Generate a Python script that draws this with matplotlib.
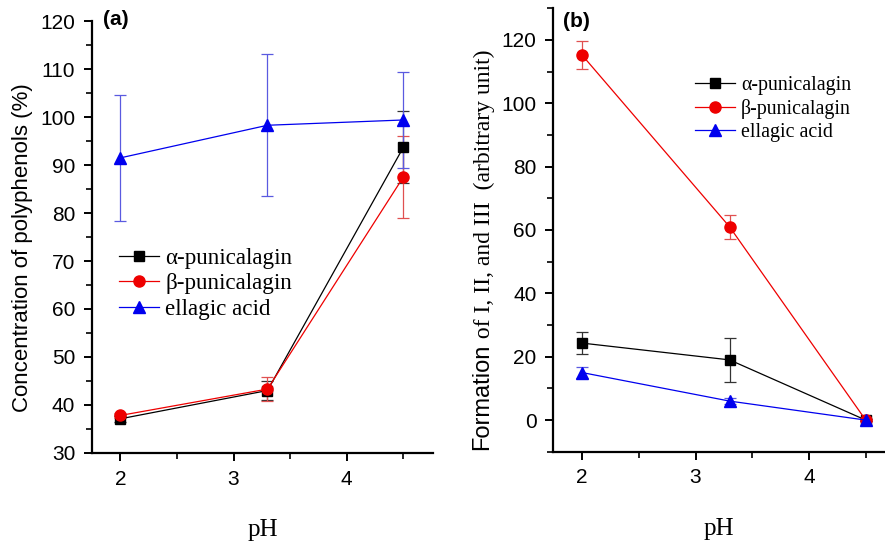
import matplotlib
matplotlib.use("Agg")
import matplotlib.pyplot as plt
from matplotlib.ticker import MultipleLocator

pH = [2.0, 3.3, 4.5]
labels = ["α-punicalagin", "β-punicalagin", "ellagic acid"]

# Panel (a): concentration of polyphenols (%)
a_alpha = [37.1, 43.0, 93.7]
a_alpha_err = [0.6, 2.0, 7.5]
a_beta = [37.8, 43.3, 87.5]
a_beta_err = [0.6, 2.5, 8.5]
a_ella = [91.5, 98.3, 99.4]
a_ella_err = [13.1, 14.8, 10.1]

# Panel (b): formation (arbitrary unit)
b_alpha = [24.3, 19.0, 0.0]
b_alpha_err = [3.4, 7.0, 0.3]
b_beta = [115.2, 61.0, 0.0]
b_beta_err = [4.4, 3.7, 0.3]
b_ella = [15.0, 6.0, 0.0]
b_ella_err = [1.6, 1.0, 0.3]

colors = ["black", "#ee0000", "#0000ee"]
err_colors = ["#333333", "#e05050", "#5a5ae0"]
markers = ["s", "o", "^"]
msizes = [6.5, 8, 8.5]

SANS = ["Liberation Sans", "DejaVu Sans"]
SERIF = ["Liberation Serif", "DejaVu Serif"]

fig = plt.figure(figsize=(8.85, 5.43), dpi=100)
axa = fig.add_axes([0.104, 0.166, 0.385, 0.795])
axb = fig.add_axes([0.625, 0.168, 0.375, 0.817])


def draw(ax, series, errs):
    handles = []
    for i, (y, e) in enumerate(zip(series, errs)):
        ax.errorbar(pH, y, yerr=e, fmt="none", ecolor=err_colors[i],
                    elinewidth=0.9, capsize=4, capthick=0.9, zorder=2)
        h, = ax.plot(pH, y, color=colors[i], lw=0.9, marker=markers[i],
                     ms=msizes[i], mfc=colors[i], mec=colors[i], zorder=3 + i,
                     label=labels[i])
        handles.append(h)
    for s in ["top", "right"]:
        ax.spines[s].set_visible(False)
    for s in ["left", "bottom"]:
        ax.spines[s].set_linewidth(1.6)
    ax.xaxis.set_major_locator(MultipleLocator(1))
    ax.xaxis.set_minor_locator(MultipleLocator(0.5))
    ax.tick_params(which="major", direction="out", length=6, width=1.4,
                   labelsize=15, pad=6)
    ax.tick_params(which="minor", direction="out", length=4, width=1.2)
    ax.set_xlabel("pH", family=SERIF, fontsize=18, labelpad=22)
    return handles


ha = draw(axa, [a_alpha, a_beta, a_ella], [a_alpha_err, a_beta_err, a_ella_err])
axa.set_xlim(1.75, 4.76)
axa.set_ylim(30, 120)
axa.yaxis.set_major_locator(MultipleLocator(10))
axa.yaxis.set_minor_locator(MultipleLocator(5))
for t in axa.get_xticklabels() + axa.get_yticklabels():
    t.set_family(SANS)
axa.set_ylabel("Concentration of polyphenols (%)", family=SANS, fontsize=16)
axa.yaxis.set_label_coords(-0.173, 0.475)
axa.text(0.032, 1.005, "(a)", transform=axa.transAxes, family=SANS,
         fontweight="bold", fontsize=15, va="center", ha="left")
axa.legend(handles=ha, loc="upper left", bbox_to_anchor=(0.052, 0.497),
           frameon=False, prop={"family": SERIF, "size": 16.6},
           handlelength=1.75, handletextpad=0.25, labelspacing=0.2,
           borderaxespad=0)

hb = draw(axb, [b_alpha, b_beta, b_ella], [b_alpha_err, b_beta_err, b_ella_err])
axb.set_xlim(1.745, 4.67)
axb.set_ylim(-10, 130)
axb.yaxis.set_major_locator(MultipleLocator(20))
axb.yaxis.set_minor_locator(MultipleLocator(10))
for t in axb.get_xticklabels() + axb.get_yticklabels():
    t.set_family(SANS)
axb.text(0.03, 0.97, "(b)", transform=axb.transAxes, family=SANS,
         fontweight="bold", fontsize=15, va="center", ha="left")
axb.legend(handles=hb, loc="upper left", bbox_to_anchor=(0.404, 0.866),
           frameon=False, prop={"family": SERIF, "size": 14.3},
           handlelength=2.0, handletextpad=0.3, labelspacing=0.22,
           borderaxespad=0)

# y label of panel (b): "Formation" in sans-serif followed by serif text
fig.canvas.draw()
renderer = fig.canvas.get_renderer()
t1 = fig.text(0.5, 0.0, "Formation", family=SANS, fontsize=17,
              rotation=90, ha="right", va="bottom")
t2 = fig.text(0.5, 0.0, " of I, II, and III  (arbitrary unit)", family=SERIF,
              fontsize=17, rotation=90, ha="right", va="bottom")
h1 = t1.get_window_extent(renderer).height / fig.bbox.height
h2 = t2.get_window_extent(renderer).height / fig.bbox.height
ymid = 0.540
ystart = ymid - (h1 + h2) / 2
xl = 493 / 885
t1.set_position((xl, ystart))
t2.set_position((xl + 0.002, ystart + h1))

fig.savefig("out.png", dpi=100)
